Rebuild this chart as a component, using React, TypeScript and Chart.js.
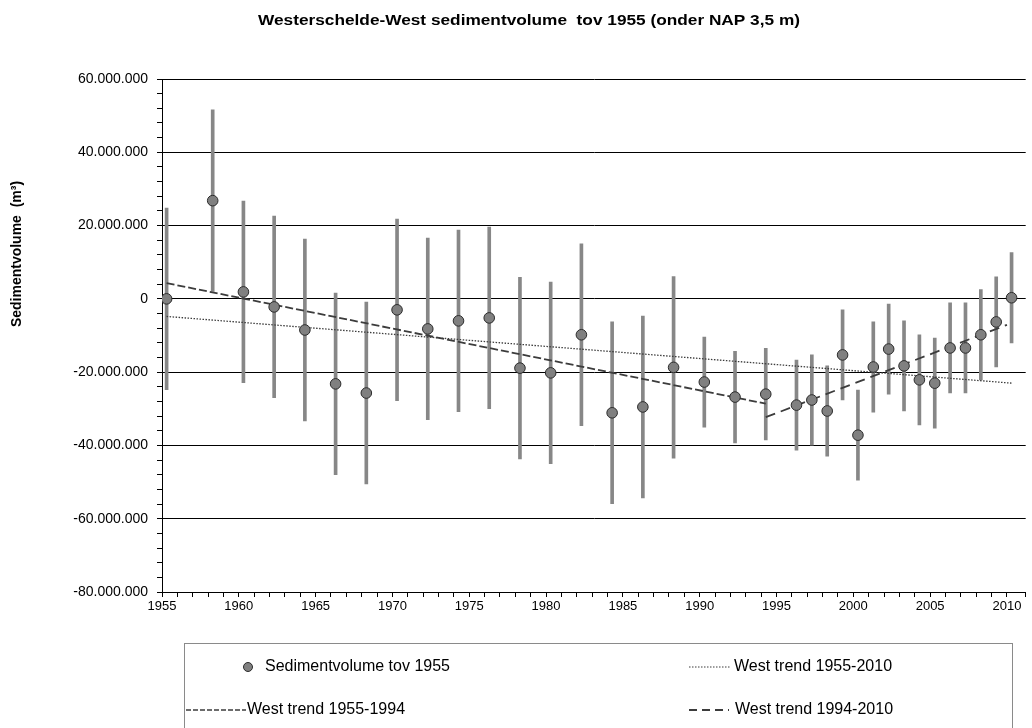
import React, { useEffect, useRef } from 'react';
import { Chart, registerables } from 'chart.js';

Chart.register(...registerables);

// Survey dates (decimal years)
const years = [
  1955.3, 1958.3, 1960.3, 1962.3, 1964.3, 1966.3, 1968.3, 1970.3, 1972.3, 1974.3,
  1976.3, 1978.3, 1980.3, 1982.3, 1984.3, 1986.3, 1988.3, 1990.3, 1992.3, 1994.3,
  1996.3, 1997.3, 1998.3, 1999.3, 2000.3, 2001.3, 2002.3, 2003.3, 2004.3, 2005.3,
  2006.3, 2007.3, 2008.3, 2009.3, 2010.3,
];

// Sediment volume relative to 1955 (m3)
const volumes = [
  0, 26800000, 1900000, -2200000, -8500000, -23200000, -25700000, -3000000, -8200000, -6000000,
  -5200000, -18900000, -20200000, -9800000, -31100000, -29500000, -18700000, -22700000, -26800000, -26000000,
  -29000000, -27600000, -30600000, -15300000, -37200000, -18600000, -13700000, -18300000, -22100000, -23000000,
  -13400000, -13400000, -9800000, -6300000, 300000,
];

// Uncertainty (+/- m3)
const uncertainty = [
  24800000, 24800000, 24800000, 24800000, 24800000, 24800000, 24800000, 24800000, 24800000, 24800000,
  24800000, 24800000, 24800000, 24800000, 24800000, 24800000, 24800000, 12300000, 12500000, 12500000,
  12300000, 12300000, 12300000, 12300000, 12300000, 12300000, 12300000, 12300000, 12300000, 12300000,
  12300000, 12300000, 12300000, 12300000, 12300000,
];

// Trend lines (end points)
const trendAllX = [1955.3, 2010.3];
const trendAllY = [-4800000, -23000000];
const trendEarlyX = [1955.3, 1994.3];
const trendEarlyY = [4300000, -28600000];
const trendLateX = [1994.3, 2010.0];
const trendLateY = [-32300000, -7100000];

const yTickLabels = ['-80.000.000', '-60.000.000', '-40.000.000', '-20.000.000', '0', '20.000.000', '40.000.000', '60.000.000'];
const yMajorValues = [-80000000, -60000000, -40000000, -20000000, 0, 20000000, 40000000, 60000000];

const titleText = 'Westerschelde-West sedimentvolume  tov 1955 (onder NAP 3,5 m)';
const yTitleText = 'Sedimentvolume  (m\u00B3)';
const legendLabels = ['Sedimentvolume tov 1955', 'West trend 1955-2010', 'West trend 1955-1994', 'West trend 1994-2010'];

const FONT = "'Liberation Sans', Arial, sans-serif";
const POINT_FILL = '#808080';
const POINT_BORDER = '#2b2b2b';
const BAR_COLOR = '#878787';
const TREND_COLOR = '#3c3c3c';

const toLine = (xs: number[], ys: number[]) => xs.map((x, i) => ({ x, y: ys[i] }));

const decorPlugin = {
  id: 'decor',
  afterDraw(chart: any) {
    const ctx = chart.ctx as CanvasRenderingContext2D;
    ctx.save();
    // Title
    ctx.save();
    ctx.fillStyle = '#000';
    ctx.font = `bold 15px ${FONT}`;
    ctx.textAlign = 'center';
    ctx.textBaseline = 'middle';
    ctx.translate(529, 21);
    ctx.scale(1.15, 1);
    ctx.fillText(titleText, 0, 0);
    ctx.restore();

    // Y axis title
    ctx.save();
    ctx.fillStyle = '#000';
    ctx.textAlign = 'center';
    ctx.textBaseline = 'middle';
    ctx.translate(17, 254);
    ctx.rotate(-Math.PI / 2);
    ctx.font = `bold 14px ${FONT}`;
    ctx.fillText(yTitleText, 0, 0);
    ctx.restore();

    // Legend box
    ctx.strokeStyle = '#8a8a8a';
    ctx.lineWidth = 1;
    ctx.strokeRect(184.5, 643.5, 828, 120);

    ctx.font = `16px ${FONT}`;
    ctx.textAlign = 'left';
    ctx.textBaseline = 'middle';
    ctx.fillStyle = '#000';

    // marker
    ctx.beginPath();
    ctx.arc(248, 667, 4.5, 0, Math.PI * 2);
    ctx.fillStyle = POINT_FILL;
    ctx.fill();
    ctx.strokeStyle = POINT_BORDER;
    ctx.stroke();
    ctx.fillStyle = '#000';
    ctx.fillText(legendLabels[0], 265, 667);

    const sample = (x1: number, x2: number, y: number, dash: number[], w: number) => {
      ctx.save();
      ctx.strokeStyle = TREND_COLOR;
      ctx.lineWidth = w;
      ctx.setLineDash(dash);
      ctx.beginPath();
      ctx.moveTo(x1, y);
      ctx.lineTo(x2, y);
      ctx.stroke();
      ctx.restore();
    };
    sample(689, 731, 667, [1.5, 1.5], 1.2);
    ctx.fillText(legendLabels[1], 734, 667);
    sample(186, 246, 710, [5, 2], 1.5);
    ctx.fillText(legendLabels[2], 247, 710);
    sample(689, 729, 710, [8, 5], 1.8);
    ctx.fillText(legendLabels[3], 735, 710);
    ctx.restore();
  },
};

export default function App() {
  const canvasRef = useRef<HTMLCanvasElement | null>(null);

  useEffect(() => {
    document.body.style.margin = '0';
    const canvas = canvasRef.current;
    if (!canvas) return;

    const chart = new Chart(canvas, {
      type: 'scatter',
      data: {
        datasets: [
          {
            type: 'scatter',
            label: legendLabels[0],
            data: years.map((x, i) => ({ x, y: volumes[i] })),
            pointRadius: 5.3,
            pointBackgroundColor: POINT_FILL,
            pointBorderColor: POINT_BORDER,
            pointBorderWidth: 1,
            order: 0,
          } as any,
          {
            type: 'line',
            label: legendLabels[1],
            data: toLine(trendAllX, trendAllY),
            borderColor: TREND_COLOR,
            borderWidth: 1.3,
            borderDash: [1.5, 1.5],
            pointRadius: 0,
            fill: false,
            order: 1,
          } as any,
          {
            type: 'line',
            label: legendLabels[2],
            data: toLine(trendEarlyX, trendEarlyY),
            borderColor: TREND_COLOR,
            borderWidth: 1.8,
            borderDash: [8, 3],
            pointRadius: 0,
            fill: false,
            order: 1,
          } as any,
          {
            type: 'line',
            label: legendLabels[3],
            data: toLine(trendLateX, trendLateY),
            borderColor: TREND_COLOR,
            borderWidth: 1.8,
            borderDash: [10, 6],
            pointRadius: 0,
            fill: false,
            order: 1,
          } as any,
          {
            type: 'bar',
            label: 'onzekerheid',
            data: years.map((x, i) => ({ x, y: [volumes[i] - uncertainty[i], volumes[i] + uncertainty[i]] })),
            backgroundColor: BAR_COLOR,
            borderWidth: 0,
            barThickness: 3,
            order: 2,
          } as any,
        ],
      },
      options: {
        animation: false,
        responsive: false,
        devicePixelRatio: 1,
        layout: { padding: { top: 79, left: 0, right: 0, bottom: 106 } },
        plugins: {
          legend: { display: false },
          tooltip: { enabled: false },
          title: { display: false },
        },
        scales: {
          x: {
            type: 'linear',
            min: 1955,
            max: 2011.22,
            offset: false,
            afterFit: (s: any) => { s.height = 30; },
            ticks: {
              stepSize: 1,
              autoSkip: false,
              maxRotation: 0,
              padding: 2,
              color: '#000',
              font: { family: FONT, size: 13 },
              callback: (v: any) => (Math.abs(v % 5) < 1e-6 ? String(v) : ''),
            },
            grid: {
              drawOnChartArea: false,
              drawTicks: true,
              tickLength: 5,
              tickColor: '#000',
              offset: false,
            },
            border: { display: true, color: '#000', width: 1 },
          },
          y: {
            type: 'linear',
            min: -80000000,
            max: 60000000,
            afterFit: (s: any) => { s.width = 162; },
            ticks: {
              stepSize: 4000000,
              autoSkip: false,
              padding: 9,
              color: '#000',
              font: { family: FONT, size: 14 },
              callback: (v: any) => {
                const idx = yMajorValues.indexOf(Math.round(v));
                return idx >= 0 ? yTickLabels[idx] : '';
              },
            },
            grid: {
              color: (c: any) => (c.tick && yMajorValues.indexOf(Math.round(c.tick.value)) >= 0 ? '#000' : 'rgba(0,0,0,0)'),
              lineWidth: 1,
              drawTicks: true,
              tickLength: 5,
              tickColor: '#000',
            },
            border: { display: true, color: '#000', width: 1 },
          },
        },
      } as any,
      plugins: [decorPlugin],
    });

    return () => chart.destroy();
  }, []);

  return (
    <div style={{ width: 1032, height: 728, background: '#fff', position: 'relative' }}>
      <canvas ref={canvasRef} width={1032} height={728} style={{ width: 1032, height: 728, display: 'block' }} />
    </div>
  );
}
